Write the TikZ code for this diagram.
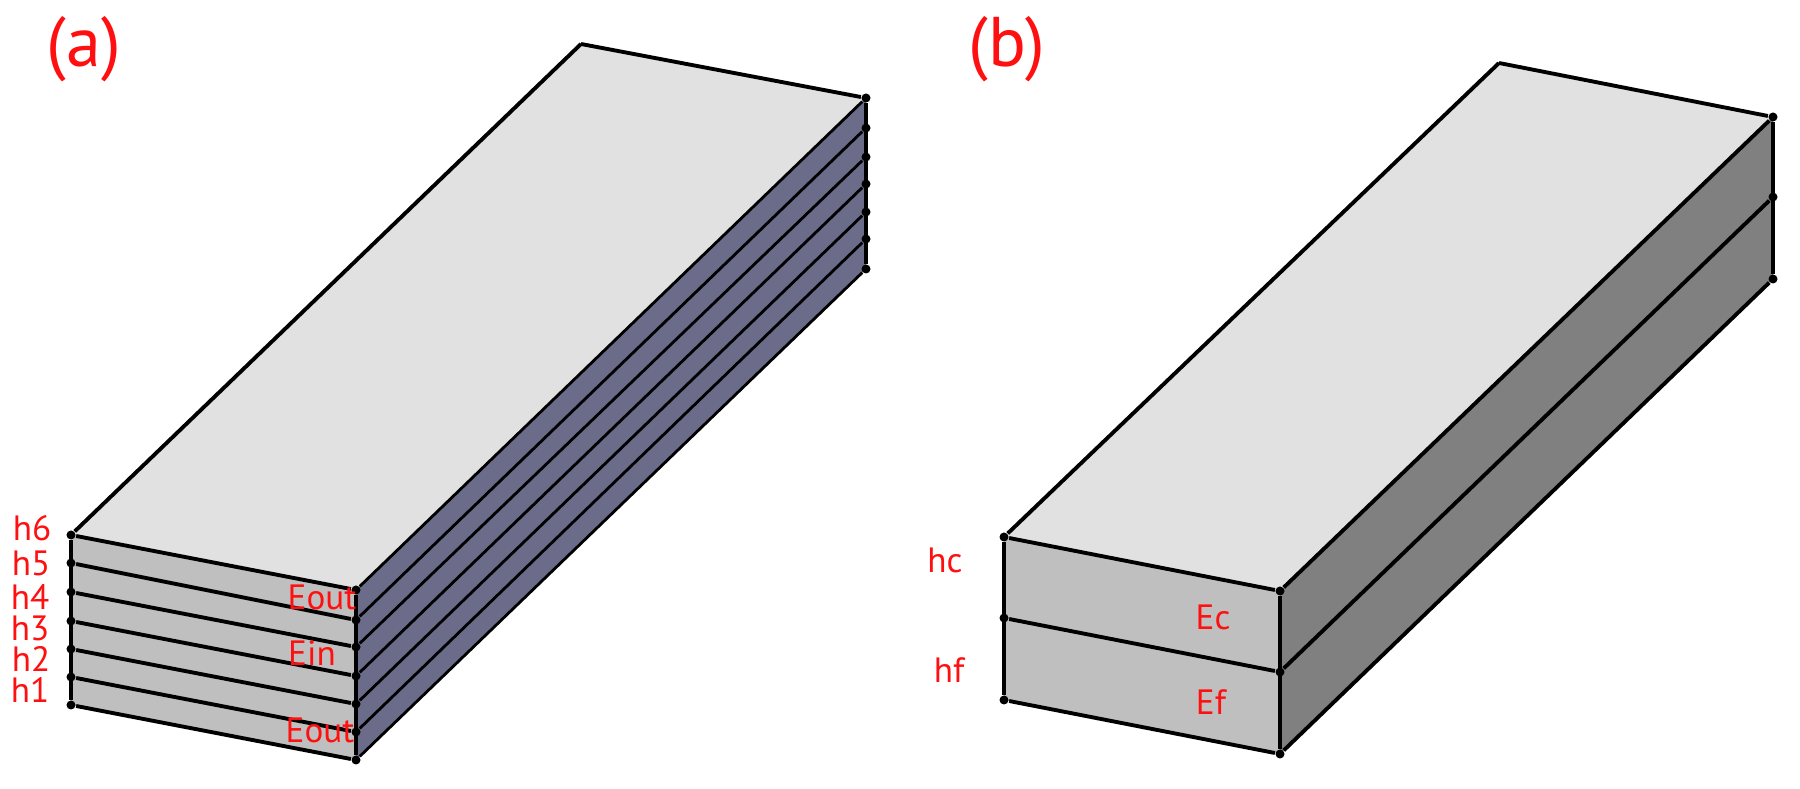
\documentclass[tikz,border=0pt]{standalone}
\usepackage{fontspec}
\setmainfont{PT Sans}
\usetikzlibrary{backgrounds}

\definecolor{topgray}{HTML}{E1E1E1}
\definecolor{frontgray}{HTML}{BFBFBF}
\definecolor{sidegray}{HTML}{808080}
\definecolor{sideblue}{HTML}{6B6B8A}
\definecolor{labelred}{HTML}{FF1010}

\begin{document}
\begin{tikzpicture}[x=0.01cm, y=-0.01cm,
corner/.style = {circle, fill=black, inner sep=0pt, minimum size=0.09cm},
edgeline/.style = {draw, line width=1.1pt},
thinline/.style = {draw, line width=0.8pt},
small/.style = {text=labelred, font=\fontsize{10}{12}\selectfont, inner sep=0pt},
panel/.style = {text=labelred, font=\fontsize{20}{24}\selectfont, inner sep=0pt}]
    \useasboundingbox (0,0) rectangle (1800,789);
    % panel a
    \node [corner] at (71,535)    (AL6) {};
    \node [corner] at (71,563)    (AL5) {};
    \node [corner] at (71,592)    (AL4) {};
    \node [corner] at (71,621)    (AL3) {};
    \node [corner] at (71,649)    (AL2) {};
    \node [corner] at (71,677)    (AL1) {};
    \node [corner] at (71,705)    (AL0) {};
    \node [corner] at (356,590)   (AR6) {};
    \node [corner] at (356,620)   (AR5) {};
    \node [corner] at (356,647)   (AR4) {};
    \node [corner] at (356,676)   (AR3) {};
    \node [corner] at (356,704)   (AR2) {};
    \node [corner] at (356,732)   (AR1) {};
    \node [corner] at (356,760)   (AR0) {};
    \node [corner] at (866,98)    (AB6) {};
    \node [corner] at (866,128)   (AB5) {};
    \node [corner] at (866,157)   (AB4) {};
    \node [corner] at (866,184)   (AB3) {};
    \node [corner] at (866,212)   (AB2) {};
    \node [corner] at (866,239)   (AB1) {};
    \node [corner] at (866,269)   (AB0) {};
    \coordinate (AK) at (581,44);
    % panel b
    \node [corner] at (1004,537)  (BL2) {};
    \node [corner] at (1004,618)  (BL1) {};
    \node [corner] at (1004,700)  (BL0) {};
    \node [corner] at (1280,591)  (BR2) {};
    \node [corner] at (1280,672)  (BR1) {};
    \node [corner] at (1280,754)  (BR0) {};
    \node [corner] at (1773,117)  (BB2) {};
    \node [corner] at (1773,197)  (BB1) {};
    \node [corner] at (1773,279)  (BB0) {};
    \coordinate (BK) at (1499,63);
    \begin{scope}[on background layer]
        \fill[topgray] (AK) -- (AB6.center) -- (AR6.center) -- (AL6.center) -- cycle;
        \fill[frontgray] (AL6.center) -- (AR6.center) -- (AR0.center) -- (AL0.center) -- cycle;
        \fill[sideblue] (AR6.center) -- (AB6.center) -- (AB0.center) -- (AR0.center) -- cycle;
        \fill[topgray] (BK) -- (BB2.center) -- (BR2.center) -- (BL2.center) -- cycle;
        \fill[frontgray] (BL2.center) -- (BR2.center) -- (BR0.center) -- (BL0.center) -- cycle;
        \fill[sidegray] (BR2.center) -- (BB2.center) -- (BB0.center) -- (BR0.center) -- cycle;
    \end{scope}
    \path[edgeline] (AL6) edge (AK)
                    (AK)  edge (AB6)
                    (AL6) edge (AL0)
                    (AR6) edge (AR0)
                    (AB6) edge (AB0)
                    (AL6) edge (AR6)
                    (AL5) edge (AR5)
                    (AL4) edge (AR4)
                    (AL3) edge (AR3)
                    (AL2) edge (AR2)
                    (AL1) edge (AR1)
                    (AL0) edge (AR0)
                    ;
    \path[thinline] (AR6) edge (AB6)
                    (AR5) edge (AB5)
                    (AR4) edge (AB4)
                    (AR3) edge (AB3)
                    (AR2) edge (AB2)
                    (AR1) edge (AB1)
                    (AR0) edge (AB0)
                    ;
    \path[edgeline] (BL2) edge (BK)
                    (BK)  edge (BB2)
                    (BL2) edge (BL0)
                    (BR2) edge (BR0)
                    (BB2) edge (BB0)
                    (BL2) edge (BR2)
                    (BL1) edge (BR1)
                    (BL0) edge (BR0)
                    (BR2) edge (BB2)
                    (BR1) edge (BB1)
                    (BR0) edge (BB0)
                    ;
    % labels
    \node [panel] at (84,49)    (Atag)  {(a)};
    \node [panel] at (1007,49)  (Btag)  {(b)};
    \node [small] at (32,528)   (h6)    {h6};
    \node [small] at (31,563)   (h5)    {h5};
    \node [small] at (30,597)   (h4)    {h4};
    \node [small] at (30,628)   (h3)    {h3};
    \node [small] at (31,659)   (h2)    {h2};
    \node [small] at (30,690)   (h1)    {h1};
    \node [small] at (322,597)  (Eouta) {Eout};
    \node [small] at (312,653)  (Ein)   {Ein};
    \node [small] at (320,730)  (Eoutb) {Eout};
    \node [small] at (945,560)  (hc)    {hc};
    \node [small] at (949,670)  (hf)    {hf};
    \node [small] at (1213,617) (Ec)    {Ec};
    \node [small] at (1211,702) (Ef)    {Ef};
\end{tikzpicture}
\end{document}
